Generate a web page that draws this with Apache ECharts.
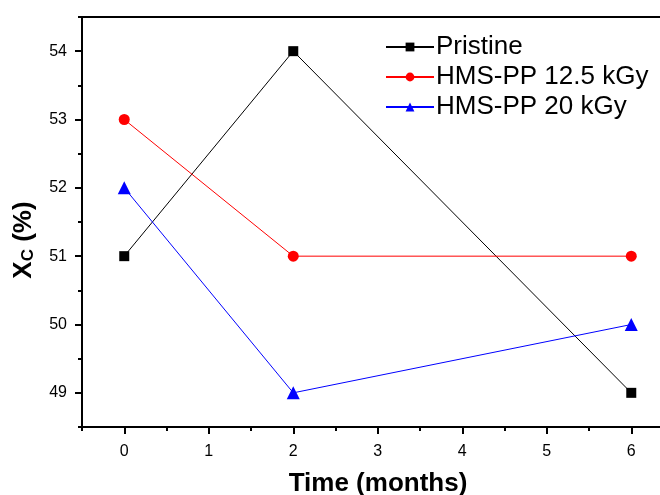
<!DOCTYPE html>
<html>
<head>
<meta charset="utf-8">
<script src="https://cdn.jsdelivr.net/npm/echarts@6/dist/echarts.min.js"></script>
<style>
  html, body { margin: 0; padding: 0; background: #fff; }
  #chart { width: 660px; height: 495px; }
</style>
</head>
<body>
<div id="chart"></div>
<script>
const months = [0, 2, 6]
const pristine = [51, 54, 49]
const hms125 = [53, 51, 51]
const hms20 = [52, 49, 50]
const xMajor = [0, 1, 2, 3, 4, 5, 6]
const xMinor = [-0.5, 0.5, 1.5, 2.5, 3.5, 4.5, 5.5]
const yMajor = [49, 50, 51, 52, 53, 54]
const yMinor = [48.5, 49.5, 50.5, 51.5, 52.5, 53.5, 54.5]

const pairs = (ys) => months.map((m, i) => [m, ys[i]])
const font = 'Liberation Sans, Arial, sans-serif'
// the right edge of the original figure is cut off, so the x range stops short of 6.5
const xMin = -0.5
const xMax = 6.34

const chart = echarts.init(document.getElementById('chart'))
const options = {
  animation: false,
  grid: { left: 82, right: 0, top: 17, bottom: 68, outerBoundsMode: 'none' },
  legend: {
    orient: 'vertical',
    left: 380,
    top: 29,
    itemWidth: 48,
    itemHeight: 11,
    itemGap: 4,
    textStyle: { fontFamily: font, fontSize: 26, color: '#000', padding: [0, 0, 0, -3] },
    data: ['Pristine', 'HMS-PP 12.5 kGy', 'HMS-PP 20 kGy']
  },
  xAxis: [
    {
      type: 'value',
      min: xMin,
      max: xMax,
      position: 'bottom',
      name: 'Time (months)',
      nameLocation: 'middle',
      nameGap: 44,
      nameTextStyle: { fontFamily: font, fontSize: 26, fontWeight: 'bold', color: '#000', padding: [0, 0, 0, 14] },
      splitLine: { show: false },
      axisLine: { onZero: false, lineStyle: { color: '#000', width: 2 } },
      axisTick: { customValues: xMajor, length: 7, lineStyle: { color: '#000', width: 2 } },
      axisLabel: { customValues: xMajor, fontFamily: font, fontSize: 16, color: '#000', margin: 17 }
    },
    {
      type: 'value',
      min: xMin,
      max: xMax,
      position: 'bottom',
      splitLine: { show: false },
      axisLine: { show: false, onZero: false },
      axisTick: { customValues: xMinor, length: 4, lineStyle: { color: '#000', width: 2 } },
      axisLabel: { show: false }
    },
    {
      type: 'value',
      min: xMin,
      max: xMax,
      position: 'top',
      splitLine: { show: false },
      axisLine: { onZero: false, lineStyle: { color: '#000', width: 2 } },
      axisTick: { show: false },
      axisLabel: { show: false }
    }
  ],
  yAxis: [
    {
      type: 'value',
      min: 48.5,
      max: 54.5,
      position: 'left',
      name: '{a|X}{b|C} (%)',
      nameLocation: 'middle',
      nameRotate: 90,
      nameGap: 45,
      nameTextStyle: {
        fontFamily: font, fontSize: 26, fontWeight: 'bold', color: '#000',
        padding: [0, 36, 0, 0],
        rich: {
          a: { fontFamily: font, fontSize: 26, fontWeight: 'bold', color: '#000' },
          b: { fontFamily: font, fontSize: 17, fontWeight: 'bold', color: '#000', verticalAlign: 'bottom', padding: [9, 0, 0, 0] }
        }
      },
      splitLine: { show: false },
      axisLine: { onZero: false, lineStyle: { color: '#000', width: 2 } },
      axisTick: { customValues: yMajor, length: 7, lineStyle: { color: '#000', width: 2 } },
      axisLabel: { customValues: yMajor, fontFamily: font, fontSize: 16, color: '#000', margin: 15 }
    },
    {
      type: 'value',
      min: 48.5,
      max: 54.5,
      position: 'left',
      splitLine: { show: false },
      axisLine: { show: false, onZero: false },
      axisTick: { customValues: yMinor, length: 4, lineStyle: { color: '#000', width: 2 } },
      axisLabel: { show: false }
    }
  ],
  series: [
    {
      name: 'Pristine',
      type: 'line',
      data: pairs(pristine),
      symbol: 'rect',
      symbolSize: 10,
      color: '#000',
      lineStyle: { width: 1, color: '#000' },
      itemStyle: { color: '#000' }
    },
    {
      name: 'HMS-PP 12.5 kGy',
      type: 'line',
      data: pairs(hms125),
      symbol: 'circle',
      symbolSize: 11,
      color: '#ff0000',
      lineStyle: { width: 1, color: '#ff0000' },
      itemStyle: { color: '#ff0000' }
    },
    {
      name: 'HMS-PP 20 kGy',
      type: 'line',
      data: pairs(hms20),
      symbol: 'triangle',
      symbolSize: 13,
      color: '#0000ff',
      lineStyle: { width: 1, color: '#0000ff' },
      itemStyle: { color: '#0000ff' }
    }
  ]
}
chart.setOption(options)
</script>
</body>
</html>
